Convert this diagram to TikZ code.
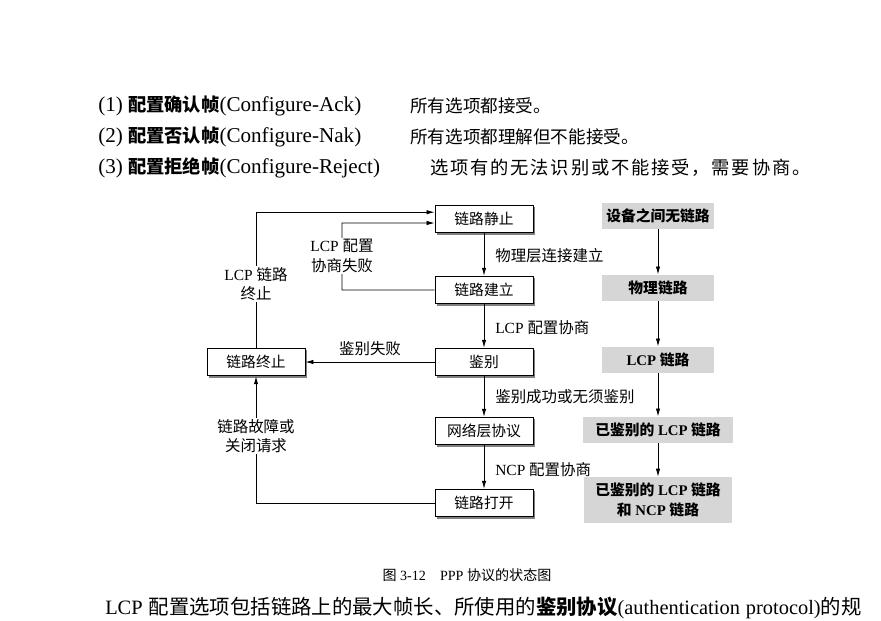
\documentclass[tikz,border=0pt]{standalone}
\usepackage{fontspec}
\setmainfont{Liberation Serif}
\newfontfamily\cjk{Noto Sans CJK SC}
\newfontfamily\cjkwide[LetterSpace=10]{Noto Sans CJK SC}
\usetikzlibrary{arrows.meta}
\usetikzlibrary{shadows}
\tikzset{>={Latex[length=2mm,width=1.1mm]}}
\definecolor{linkgray}{RGB}{214,214,214}
\newcommand{\zh}[1]{{\cjk #1}}
\newcommand{\zhb}[1]{{\cjk\bfseries #1}}
\tikzstyle{blackline}=[draw=black,line width=0.2mm]
\tikzstyle{statebox}=[draw=black,line width=0.2mm,fill=white,minimum width=2.45cm,minimum height=0.69cm,inner sep=0pt,font=\cjk\fontsize{10.5}{12}\selectfont,drop shadow={opacity=1,shadow xshift=0.45mm,shadow yshift=-0.45mm}]
\tikzstyle{linkbox}=[fill=linkgray,minimum height=0.66cm,inner sep=0pt,align=center,font=\fontsize{10.5}{14}\selectfont\bfseries]
\tikzstyle{toptext}=[anchor=west,inner sep=0pt,font=\fontsize{15}{18}\selectfont]
\tikzstyle{steplabel}=[anchor=west,inner sep=0pt,font=\fontsize{11}{13}\selectfont]
\tikzstyle{sidelabel}=[fill=white,inner sep=1pt,align=center,font=\fontsize{11}{14}\selectfont]

\begin{document}
\begin{tikzpicture}[x=0.025cm,y=-0.025cm]
    \useasboundingbox (0,0) rectangle (881,620);

    % frame types
    \node[toptext] (ack) at (98,106) {(1) \zhb{\fontsize{13}{16}\selectfont 配置确认帧}(Configure-Ack)};
    \node[toptext] (nak) at (98,137) {(2) \zhb{\fontsize{13}{16}\selectfont 配置否认帧}(Configure-Nak)};
    \node[toptext] (rej) at (98,168) {(3) \zhb{\fontsize{13}{16}\selectfont 配置拒绝帧}(Configure-Reject)};
    \node[toptext] (ackdesc) at (410,106) {\zh{\fontsize{12.5}{16}\selectfont 所有选项都接受。}};
    \node[toptext] (nakdesc) at (410,137) {\zh{\fontsize{12.5}{16}\selectfont 所有选项都理解但不能接受。}};
    \node[toptext] (rejdesc) at (430,168) {{\cjkwide\fontsize{13}{16}\selectfont 选项有的无法识别或不能接受，需要协商。}};

    % states
    \node[statebox] (quiet) at (484,219) {链路静止};
    \node[statebox] (estab) at (484,290) {链路建立};
    \node[statebox] (auth) at (484,362) {鉴别};
    \node[statebox] (netw) at (484,431) {网络层协议};
    \node[statebox] (open) at (484,503) {链路打开};
    \node[statebox] (dead) at (256,362) {链路终止};

    \foreach \a/\b in {quiet/estab,estab/auth,auth/netw,netw/open}
        \draw[blackline,->] (\a) -- (\b);

    \node[steplabel] (phyup) at (495,256) {\zh{物理层连接建立}};
    \node[steplabel] (lcpneg) at (495,328) {LCP \zh{配置协商}};
    \node[steplabel] (authok) at (495,397) {\zh{鉴别成功或无须鉴别}};
    \node[steplabel] (ncpneg) at (495,470) {NCP \zh{配置协商}};

    % back edges
    \draw[blackline,->] (auth) -- node[above=1pt,font=\cjk\fontsize{11}{13}\selectfont] (authfail) {鉴别失败} (dead);
    \draw[blackline,->] (dead.north) |- ([yshift=0.17cm]quiet.west);
    \draw[blackline,->] (estab.west) -| (342,223) -- ([yshift=-0.1cm]quiet.west);
    \draw[blackline,->] (open.west) -| (dead.south);
    \node[sidelabel] (deadlbl) at (256,284) {LCP \zh{链路}\\\zh{终止}};
    \node[sidelabel] (faillbl) at (342,256) {LCP \zh{配置}\\\zh{协商失败}};
    \node[sidelabel] (downlbl) at (256,436) {\zh{链路故障或}\\\zh{关闭请求}};

    % link phases
    \node[linkbox,minimum width=2.8cm] (nolink) at (658,216) {\zhb{设备之间无链路}};
    \node[linkbox,minimum width=2.8cm] (phys) at (658,288) {\zhb{物理链路}};
    \node[linkbox,minimum width=2.8cm] (lcplink) at (658,360) {LCP \zhb{链路}};
    \node[linkbox,minimum width=3.75cm] (authlink) at (658,430) {\zhb{已鉴别的} LCP \zhb{链路}};
    \node[linkbox,minimum width=3.7cm,minimum height=1.15cm] (ncplink) at (658,500) {\zhb{已鉴别的} LCP \zhb{链路}\\\zhb{和} NCP \zhb{链路}};
    \foreach \a/\b in {nolink/phys,phys/lcplink,lcplink/authlink,authlink/ncplink}
        \draw[blackline,->] (\a) -- (\b);

    % caption and text
    \node[font=\fontsize{10}{12}\selectfont] (caption) at (467,575) {\zh{图} 3-12\quad PPP \zh{协议的状态图}};
    \node[anchor=west,inner sep=0pt,font=\fontsize{14.5}{16}\selectfont] (body) at (105,608)
        {\makebox[18.9cm][s]{LCP \zh{配置选项包括链路上的最大帧长、所使用的}\zhb{鉴别协议}(authentication protocol)\zh{的规}}};
\end{tikzpicture}
\end{document}
